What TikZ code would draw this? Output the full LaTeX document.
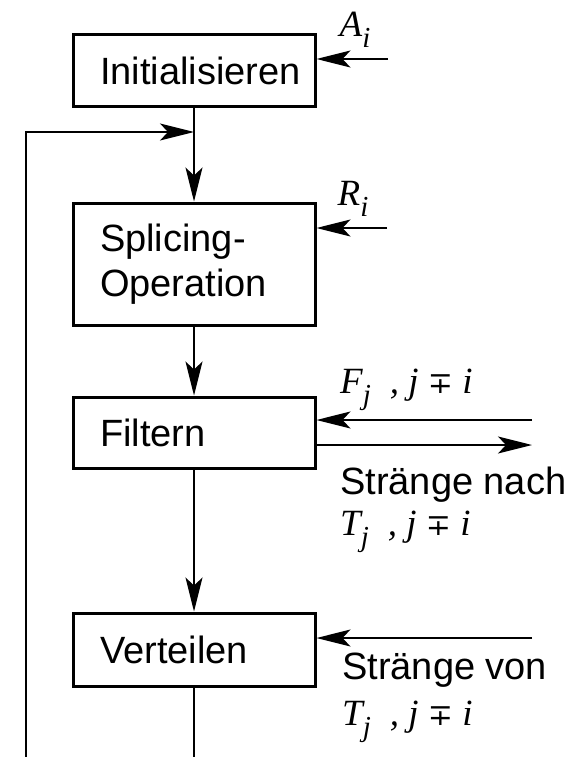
\documentclass[tikz,border=0pt]{standalone}
\usepackage{fontspec}
\setmainfont{Liberation Sans}
\newfontfamily\tms{Liberation Serif}
\newfontfamily\dvs{DejaVu Serif}
\usetikzlibrary{arrows.meta}
\newcommand{\idx}[2]{{\tms\itshape #1\raisebox{-0.3em}{\fontsize{29}{29}\selectfont #2}}}
\newcommand{\noti}{\hspace{19pt}, {\tms\itshape j} {\dvs\fontsize{30}{34}\selectfont ∓} {\tms\itshape i}}
\tikzset{
	stepbox/.style={draw, line width=3pt, minimum width=242pt, inner xsep=27pt, text width=188pt, align=left, font=\fontsize{38}{45}\selectfont},
	flow/.style={line width=1.5pt, -{Stealth[length=34pt, width=17pt, inset=8pt]}},
	mlabel/.style={font=\tms\itshape\fontsize{37}{42}\selectfont, inner sep=0pt},
	tlabel/.style={font=\fontsize{38}{45}\selectfont, inner sep=0pt, anchor=west}
}
\begin{document}
\begin{tikzpicture}[x=1pt, y=-1pt]
	\useasboundingbox (0,0) rectangle (574,757);
	%steps
	\node (init) at (194, 71) [stepbox, minimum height=72pt]{Initialisieren};
	\node (splice) at (194, 264) [stepbox, minimum height=122pt]{Splicing-\\Operation};
	\node (filt) at (194, 432.5) [stepbox, minimum height=71pt]{Filtern};
	\node (vert) at (194, 649.5) [stepbox, minimum height=73pt]{Verteilen};

	%main flow
	\draw[flow] (init) -- (splice);
	\draw[flow] (splice) -- (filt);
	\draw[flow] (filt) -- (vert);
	\coordinate (end) at (194, 757);
	\draw[line width=1.5pt] (vert) -- (end);

	%loop back
	\coordinate (loopstart) at (26, 757);
	\coordinate (loopend) at (194, 132);
	\draw[flow] (loopstart) |- (loopend);

	%inputs from the right
	\coordinate (ain) at (388, 59);
	\coordinate (rin) at (387, 228);
	\coordinate (fin) at (532, 420);
	\coordinate (fout) at (532, 445);
	\coordinate (vin) at (532, 638);
	\draw[flow] (ain) -- (ain -| init.east);
	\draw[flow] (rin) -- (rin -| splice.east);
	\draw[flow] (fin) -- (fin -| filt.east);
	\draw[flow] (fout -| filt.east) -- (fout);
	\draw[flow] (vin) -- (vin -| vert.east);

	%labels
	\node (alabel) at (355, 30) [mlabel]{\idx{A}{i}};
	\node (rlabel) at (353, 199) [mlabel]{\idx{R}{i}};
	\node (flabel) at (340, 390) [mlabel, anchor=west]{\idx{F}{j}\noti};
	\node (nach) at (340, 485) [tlabel]{Stränge nach};
	\node (nachT) at (340, 532) [mlabel, anchor=west]{\idx{T}{j}\noti};
	\node (von) at (342, 670) [tlabel]{Stränge von};
	\node (vonT) at (342, 722) [mlabel, anchor=west]{\idx{T}{j}\noti};
\end{tikzpicture}
\end{document}
